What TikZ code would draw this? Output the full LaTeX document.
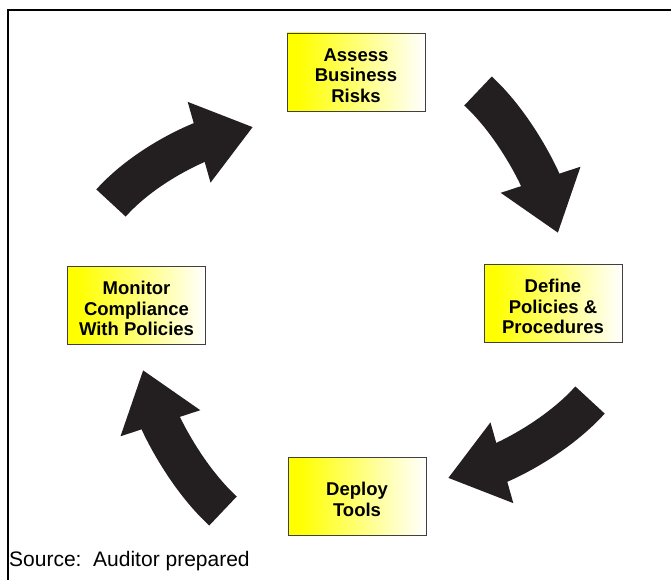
\documentclass[tikz,border=0pt]{standalone}
\usepackage{fontspec}
\setmainfont{Liberation Sans}
\usetikzlibrary{arrows.meta}
\definecolor{arrowblack}{HTML}{231F20}
\definecolor{boxline}{HTML}{404040}
\pgfdeclarehorizontalshading{boxfade}{100bp}{color(0bp)=(yellow); color(29bp)=(yellow); color(75bp)=(white); color(100bp)=(white)}

\begin{document}
\begin{tikzpicture}[x=1pt,y=-1pt,
		stage/.style={draw=boxline,line width=0.8pt,shade,shading=boxfade,minimum width=138pt,minimum height=78pt,inner sep=0pt},
		stagetext/.style={align=center,inner sep=0pt,font=\bfseries\fontsize{18.5}{20.5}\selectfont},
		bigarrow/.style={draw=arrowblack,line width=40pt,-{Triangle[width=80pt,length=56pt]}}]
		\useasboundingbox (0,0) rectangle (671,580);
		% frame
		\draw[line width=1.2pt] (671,10) -- (8,10) -- (8,580);
		% the four stages
		\node[stage] (assess)  at (356,72)    {};
		\node[stage] (define)  at (553,303)   {};
		\node[stage] (deploy)  at (357,496)   {};
		\node[stage] (monitor) at (136.5,305) {};
		\node[stagetext] at ([yshift=-3.5pt]assess)  {Assess\\Business\\Risks};
		\node[stagetext] at ([yshift=-3.5pt]define)  {Define\\Policies \&\\Procedures};
		\node[stagetext] at ([yshift=-3.5pt]deploy)  {Deploy\\Tools};
		\node[stagetext] at ([yshift=-3.5pt]monitor) {Monitor\\Compliance\\With Policies};
		% arrow ends
		\coordinate (t1) at (478,91);  \coordinate (h1) at (558,233);
		\coordinate (t2) at (590,400); \coordinate (h2) at (448,478);
		\coordinate (t3) at (223,511); \coordinate (h3) at (143,370);
		\coordinate (t4) at (111,203); \coordinate (h4) at (253,127);
		\draw[bigarrow] (t1) .. controls +(39,36) and +(-17,-52) .. (h1);
		\draw[bigarrow] (t2) .. controls +(-36,40) and +(53,-15) .. (h2);
		\draw[bigarrow] (t3) .. controls +(-39,-36) and +(17,52) .. (h3);
		\draw[bigarrow] (t4) .. controls +(36,-40) and +(-53,15) .. (h4);
		\node[anchor=base west,inner sep=0pt,font=\fontsize{21}{25}\selectfont] (src) at (9,566) {Source:\ \ Auditor prepared};
\end{tikzpicture}
\end{document}
